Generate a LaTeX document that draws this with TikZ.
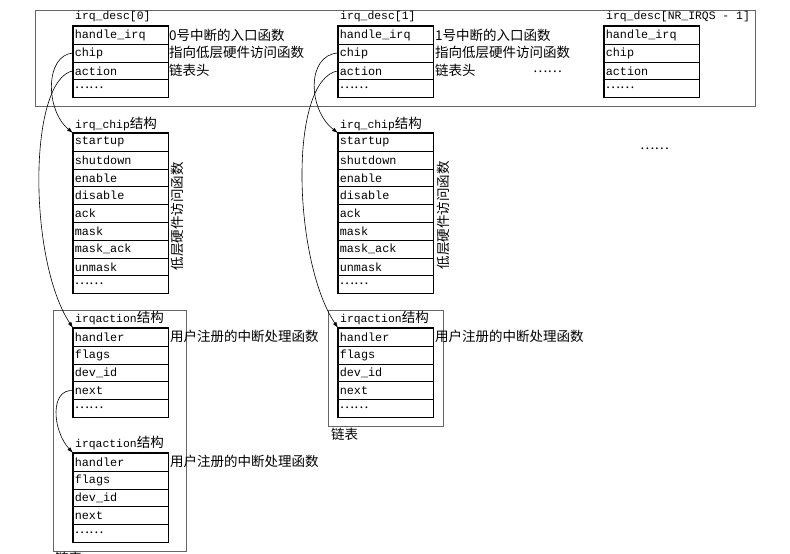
\documentclass[tikz,border=0pt]{standalone}
\usepackage{fontspec}
\setmonofont{Liberation Mono}
\newfontfamily\cjk{Noto Sans CJK SC}
\usetikzlibrary{arrows.meta}
\newcommand\mystruct[5]{%
  \foreach \t [count=\i] in {#5} {
    \node[row] (#1-\i) at (#2, {#3+(\i-1)*17.8}) {\t};
  }
  \draw[line width=1.3pt] (#1-1.north west) rectangle (#1-#4.south east);
}
\newcommand\rowdots{{\cjk\fontsize{13.5}{14}\selectfont\raisebox{1pt}{……}}}
\begin{document}
\begin{tikzpicture}[x=1pt,y=-1pt,
  row/.style={draw, line width=0.6pt, minimum width=95pt, minimum height=17.8pt,
    text width=92pt, inner xsep=1.5pt, inner ysep=0pt, anchor=north west,
    font=\ttfamily\fontsize{11.8}{12}\selectfont, align=left},
  lbl/.style={anchor=west, inner sep=0pt, font=\ttfamily\fontsize{11.4}{12}\selectfont},
  note/.style={anchor=west, inner sep=0pt, font=\cjk\fontsize{13.5}{14}\selectfont},
  container/.style={draw=black!60, line width=0.9pt},
  ptr/.style={-{Latex[length=6pt,width=4pt]}, line width=0.6pt}]
\useasboundingbox (0,0) rectangle (790,554);

% top container
\draw[container] (35,10) rectangle (755,106);

% irq_desc structures
\node[lbl] (ld0) at (75,17) {irq\_desc[0]};
\mystruct{d0}{73}{26}{4}{handle\_irq,chip,action,\rowdots}
\node[lbl] (ld1) at (340,17) {irq\_desc[1]};
\mystruct{d1}{338}{26}{4}{handle\_irq,chip,action,\rowdots}
\node[lbl] (ldn) at (606,17) {irq\_desc[NR\_IRQS - 1]};
\mystruct{dn}{604}{26}{4}{handle\_irq,chip,action,\rowdots}

\node[note] (n01) at (169,34.9) {0号中断的入口函数};
\node[note] (n02) at (169,52.7) {指向低层硬件访问函数};
\node[note] (n03) at (169,70.5) {链表头};
\node[note] (n11) at (435,34.9) {1号中断的入口函数};
\node[note] (n12) at (435,52.7) {指向低层硬件访问函数};
\node[note] (n13) at (435,70.5) {链表头};
\node[note] (dots1) at (533,72) {……};
\node[note] (dots2) at (640,149) {……};

% irq_chip structures
\node[lbl] (lc0) at (75,124) {irq\_chip{\cjk\fontsize{13.5}{14}\selectfont 结构}};
\mystruct{c0}{73}{133}{9}{startup,shutdown,enable,disable,ack,mask,mask\_ack,unmask,\rowdots}
\node[note, anchor=center, rotate=90] (v0) at (177,216) {低层硬件访问函数};
\node[lbl] (lc1) at (340,124) {irq\_chip{\cjk\fontsize{13.5}{14}\selectfont 结构}};
\mystruct{c1}{338}{133}{9}{startup,shutdown,enable,disable,ack,mask,mask\_ack,unmask,\rowdots}
\node[note, anchor=center, rotate=90] (v1) at (443,215) {低层硬件访问函数};

% irqaction containers
\draw[container] (53,310) rectangle (186,551);
\draw[container] (328,310) rectangle (443,426);

% irqaction structures
\node[lbl] (la0) at (75,318) {irqaction{\cjk\fontsize{13.5}{14}\selectfont 结构}};
\mystruct{a0}{73}{328}{5}{handler,flags,dev\_id,next,\rowdots}
\node[note] (na0) at (170,336) {用户注册的中断处理函数};
\node[lbl] (lb0) at (75,443) {irqaction{\cjk\fontsize{13.5}{14}\selectfont 结构}};
\mystruct{b0}{73}{453}{5}{handler,flags,dev\_id,next,\rowdots}
\node[note] (nb0) at (170,461) {用户注册的中断处理函数};
\node[lbl] (la1) at (340,318) {irqaction{\cjk\fontsize{13.5}{14}\selectfont 结构}};
\mystruct{a1}{338}{328}{5}{handler,flags,dev\_id,next,\rowdots}
\node[note] (na1) at (435,336) {用户注册的中断处理函数};

\node[note] (ll1) at (331,434) {链表};
\node[note] (ll0) at (55,558) {链表};

% pointers
\draw[ptr] (d0-2.west) .. controls +(-28,2) and +(-28,-23) .. (c0-1.north west);
\draw[ptr] (d0-3.west) .. controls +(-45,9) and +(-45,-68) .. (a0-1.north west);
\draw[ptr] (d1-2.west) .. controls +(-32,2) and +(-30,-23) .. (c1-1.north west);
\draw[ptr] (d1-3.west) .. controls +(-50,9) and +(-45,-68) .. (a1-1.north west);
\draw[ptr] (a0-4.west) .. controls +(-23,-2) and +(-21,-23) .. (b0-1.north west);
\end{tikzpicture}
\end{document}
